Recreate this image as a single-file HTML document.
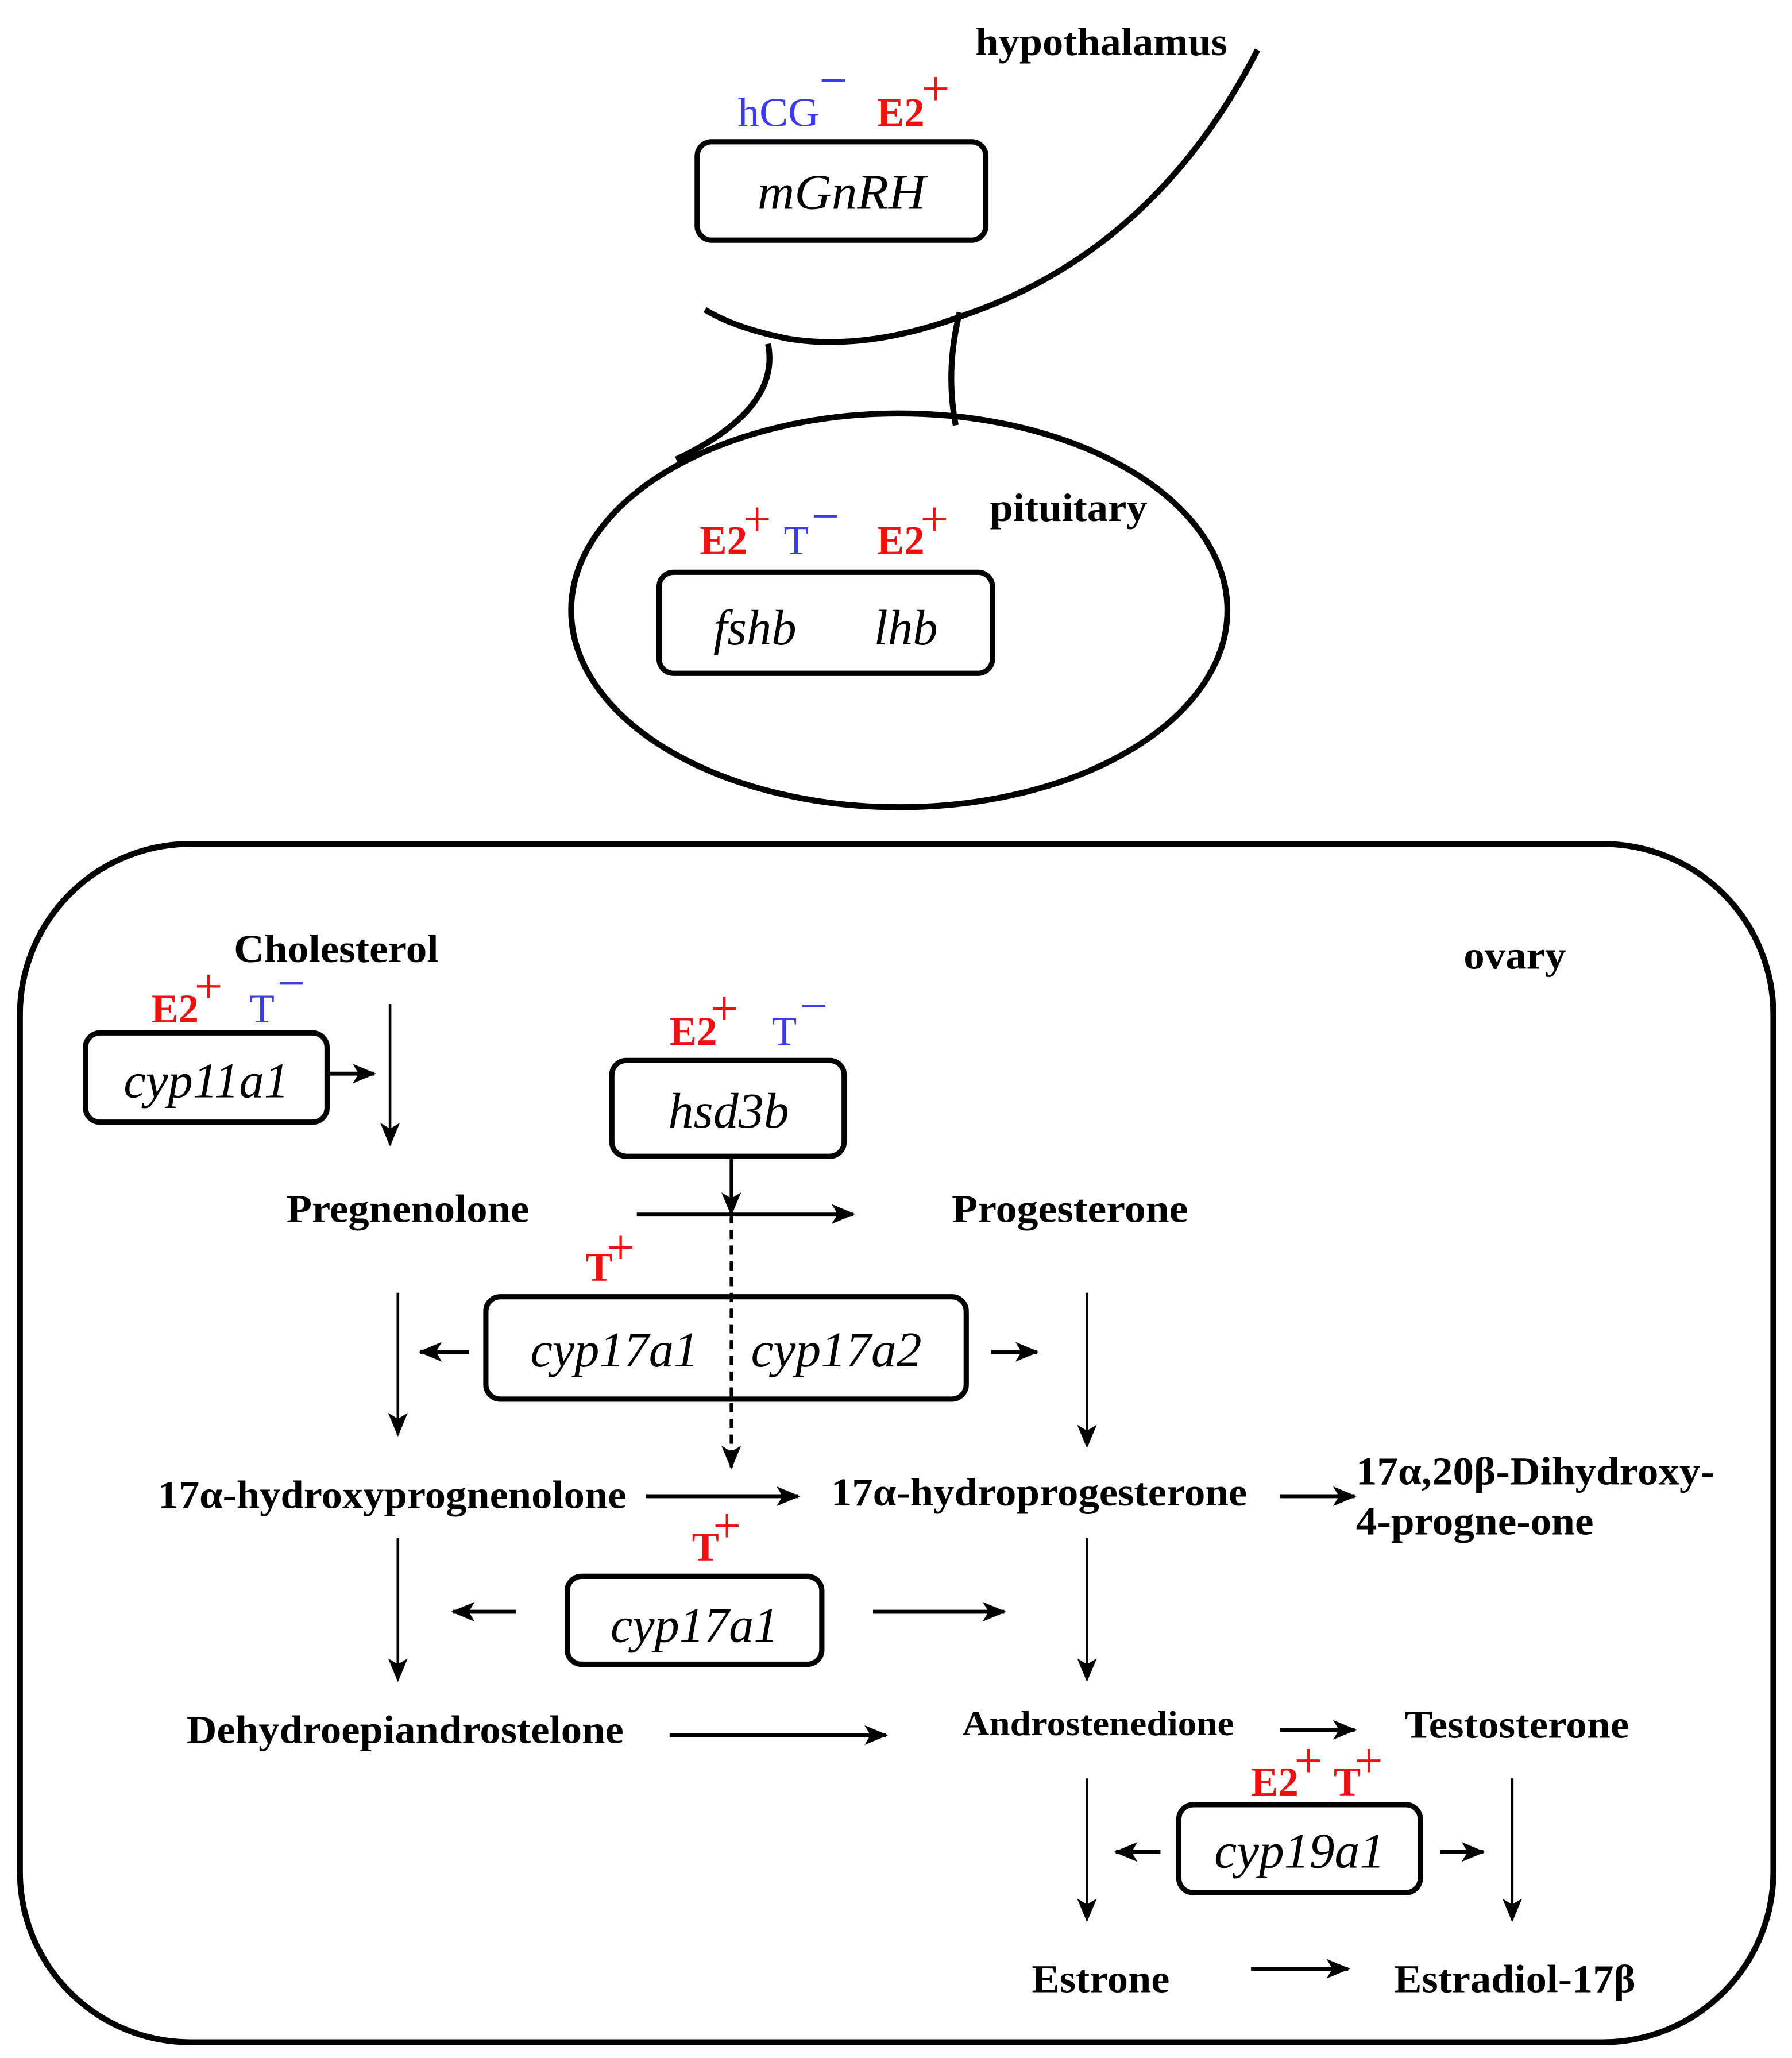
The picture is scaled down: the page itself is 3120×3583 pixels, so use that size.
<!DOCTYPE html>
<html><head><meta charset="utf-8"><style>html,body{margin:0;padding:0;background:#fff}svg{display:block}</style></head>
<body>
<svg width="3120" height="3583" viewBox="0 0 1365 1568" xmlns="http://www.w3.org/2000/svg">
<defs>
<marker id="a" markerUnits="userSpaceOnUse" markerWidth="18" markerHeight="18" viewBox="0 0 12 10" refX="11" refY="5" orient="auto">
<path d="M0,0 L12,5 L0,10 L3,5 z" fill="#000"/></marker>
</defs>
<rect width="1365" height="1568" fill="#fff"/>
<g fill="none" stroke="#000">
<path d="M958,38 Q880,190 735,240 Q660,268 600,258 Q560,250 537,236" stroke-width="4.5"/>
<path d="M585,262 Q595,312 515,350" stroke-width="4.5"/>
<path d="M731,238 Q720,282 728,324" stroke-width="4.5"/>
<ellipse cx="685" cy="465" rx="250" ry="150" stroke-width="4.5"/>
<rect x="531" y="108" width="220" height="75" rx="11" stroke-width="4"/>
<rect x="502" y="436" width="254" height="77" rx="11" stroke-width="4"/>
<rect x="15" y="643" width="1336" height="913" rx="130" stroke-width="4.5"/>
<rect x="65" y="787" width="184" height="68" rx="11" stroke-width="4"/>
<rect x="466" y="808" width="177" height="73" rx="11" stroke-width="4"/>
<rect x="370" y="988" width="366" height="78" rx="11" stroke-width="4"/>
<rect x="432" y="1201" width="194" height="67" rx="11" stroke-width="4"/>
<rect x="898" y="1375" width="184" height="67" rx="11" stroke-width="4"/>
</g>
<g stroke="#000" fill="none" marker-end="url(#a)">
<line x1="297" y1="765" x2="297" y2="872" stroke-width="2"/>
<line x1="303" y1="985" x2="303" y2="1093" stroke-width="2"/>
<line x1="828" y1="985" x2="828" y2="1102" stroke-width="2"/>
<line x1="303" y1="1172" x2="303" y2="1280" stroke-width="2"/>
<line x1="828" y1="1172" x2="828" y2="1280" stroke-width="2"/>
<line x1="828" y1="1355" x2="828" y2="1463" stroke-width="2"/>
<line x1="1152" y1="1355" x2="1152" y2="1463" stroke-width="2"/>
<line x1="557" y1="881" x2="557" y2="925" stroke-width="2.5"/>
<line x1="557" y1="925" x2="557" y2="1118" stroke-width="2.5" stroke-dasharray="7,5"/>
<line x1="249" y1="818" x2="285" y2="818" stroke-width="3"/>
<line x1="485" y1="925" x2="650" y2="925" stroke-width="3"/>
<line x1="357" y1="1030" x2="320" y2="1030" stroke-width="3"/>
<line x1="755" y1="1030" x2="790" y2="1030" stroke-width="3"/>
<line x1="492" y1="1140" x2="608" y2="1140" stroke-width="3"/>
<line x1="975" y1="1140" x2="1032" y2="1140" stroke-width="3"/>
<line x1="393" y1="1228" x2="345" y2="1228" stroke-width="3"/>
<line x1="665" y1="1228" x2="765" y2="1228" stroke-width="3"/>
<line x1="510" y1="1322" x2="675" y2="1322" stroke-width="3"/>
<line x1="975" y1="1318" x2="1032" y2="1318" stroke-width="3"/>
<line x1="884" y1="1411" x2="850" y2="1411" stroke-width="3"/>
<line x1="1097" y1="1411" x2="1130" y2="1411" stroke-width="3"/>
<line x1="953" y1="1500" x2="1027" y2="1500" stroke-width="3"/>
</g>
<g font-family="Liberation Serif, serif" font-weight="bold" font-size="30" fill="#000">
<text x="743" y="42" textLength="192" lengthAdjust="spacingAndGlyphs">hypothalamus</text>
<text x="754" y="397" textLength="120" lengthAdjust="spacingAndGlyphs">pituitary</text>
<text x="178" y="733" textLength="156" lengthAdjust="spacingAndGlyphs">Cholesterol</text>
<text x="1115" y="738" textLength="78" lengthAdjust="spacingAndGlyphs">ovary</text>
<text x="218" y="931" textLength="185" lengthAdjust="spacingAndGlyphs">Pregnenolone</text>
<text x="725" y="931" textLength="180" lengthAdjust="spacingAndGlyphs">Progesterone</text>
<text x="120" y="1149" textLength="357" lengthAdjust="spacingAndGlyphs">17α-hydroxyprognenolone</text>
<text x="633" y="1147" textLength="317" lengthAdjust="spacingAndGlyphs">17α-hydroprogesterone</text>
<text x="1033" y="1131" textLength="273" lengthAdjust="spacingAndGlyphs">17α,20β-Dihydroxy-</text>
<text x="1033" y="1169" textLength="181" lengthAdjust="spacingAndGlyphs">4-progne-one</text>
<text x="142" y="1328" textLength="333" lengthAdjust="spacingAndGlyphs">Dehydroepiandrostelone</text>
<text x="733" y="1322" font-size="27" textLength="207" lengthAdjust="spacingAndGlyphs">Androstenedione</text>
<text x="1070" y="1324" textLength="171" lengthAdjust="spacingAndGlyphs">Testosterone</text>
<text x="786" y="1518" textLength="105" lengthAdjust="spacingAndGlyphs">Estrone</text>
<text x="1062" y="1518" textLength="184" lengthAdjust="spacingAndGlyphs">Estradiol-17β</text>
</g>
<g font-family="Liberation Serif, serif" font-style="italic" font-size="38" fill="#000" text-anchor="middle">
<text x="641" y="159" textLength="128" lengthAdjust="spacingAndGlyphs">mGnRH</text>
<text x="575" y="491">fshb</text>
<text x="690" y="491">lhb</text>
<text x="157" y="836" textLength="126" lengthAdjust="spacingAndGlyphs">cyp11a1</text>
<text x="555" y="859" textLength="92" lengthAdjust="spacingAndGlyphs">hsd3b</text>
<text x="468" y="1041" textLength="128" lengthAdjust="spacingAndGlyphs">cyp17a1</text>
<text x="637" y="1041" textLength="130" lengthAdjust="spacingAndGlyphs">cyp17a2</text>
<text x="529" y="1251" textLength="128" lengthAdjust="spacingAndGlyphs">cyp17a1</text>
<text x="990" y="1423" textLength="130" lengthAdjust="spacingAndGlyphs">cyp19a1</text>
</g>
<g font-family="Liberation Serif, serif" font-size="31">
<text x="562" y="96" fill="#3a3aee" textLength="62" lengthAdjust="spacingAndGlyphs">hCG</text>
<text x="624" y="74" fill="#3a3aee" font-size="38">−</text>
<text x="668" y="96" fill="#ee1111" font-weight="bold">E2</text>
<text x="702" y="80" fill="#ee1111" font-size="38">+</text>

<text x="533" y="422" fill="#ee1111" font-weight="bold">E2</text>
<text x="566" y="408" fill="#ee1111" font-size="38">+</text>
<text x="597" y="422" fill="#3a3aee">T</text>
<text x="618" y="406" fill="#3a3aee" font-size="38">−</text>
<text x="668" y="422" fill="#ee1111" font-weight="bold">E2</text>
<text x="701" y="408" fill="#ee1111" font-size="38">+</text>

<text x="115" y="779" fill="#ee1111" font-weight="bold">E2</text>
<text x="148" y="764" fill="#ee1111" font-size="38">+</text>
<text x="190" y="779" fill="#3a3aee">T</text>
<text x="211" y="762" fill="#3a3aee" font-size="38">−</text>

<text x="510" y="796" fill="#ee1111" font-weight="bold">E2</text>
<text x="541" y="781" fill="#ee1111" font-size="38">+</text>
<text x="588" y="796" fill="#3a3aee">T</text>
<text x="609" y="779" fill="#3a3aee" font-size="38">−</text>

<text x="446" y="976" fill="#ee1111" font-weight="bold">T</text>
<text x="462" y="963" fill="#ee1111" font-size="38">+</text>
<text x="527" y="1189" fill="#ee1111" font-weight="bold">T</text>
<text x="543" y="1175" fill="#ee1111" font-size="38">+</text>

<text x="953" y="1368" fill="#ee1111" font-weight="bold">E2</text>
<text x="986" y="1354" fill="#ee1111" font-size="38">+</text>
<text x="1016" y="1368" fill="#ee1111" font-weight="bold">T</text>
<text x="1032" y="1354" fill="#ee1111" font-size="38">+</text>
</g>
</svg>
</body></html>
